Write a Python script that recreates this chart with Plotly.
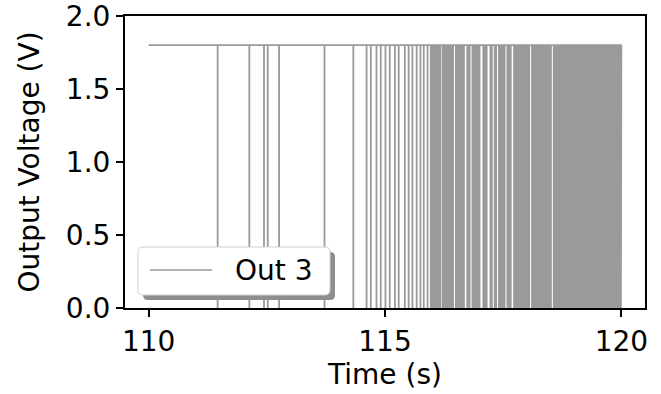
import plotly.graph_objects as go

# ---- data ----
t_start = 110.0
t_end = 120.0
v_high = 1.8
v_low = 0.0

spike_times = [
    111.46, 112.13, 112.44, 112.52, 112.76, 113.72, 114.33, 114.61, 114.70, 114.82,
    114.91, 115.01, 115.10, 115.21, 115.29, 115.42, 115.50, 115.58, 115.67, 115.75,
    115.82, 115.90, 115.97,
    116.00, 116.03, 116.05, 116.08, 116.10, 116.13, 116.15, 116.17,
    116.22, 116.24, 116.27, 116.29, 116.32, 116.34, 116.37, 116.39, 116.42, 116.44,
    116.50, 116.52, 116.55, 116.57, 116.60, 116.62, 116.65, 116.67,
    116.74, 116.76, 116.79,
    116.85, 116.87, 116.90, 116.92, 116.95, 116.97, 117.00,
    117.08, 117.10, 117.13, 117.15,
    117.23, 117.26,
    117.32, 117.35,
    117.41, 117.43, 117.46, 117.48, 117.51, 117.53,
    117.59, 117.61, 117.64, 117.66,
    117.73, 117.75, 117.78, 117.80, 117.83, 117.85, 117.88, 117.90, 117.93, 117.95,
    117.98, 118.00, 118.03, 118.05,
    118.11, 118.13, 118.16, 118.18, 118.21, 118.23, 118.26, 118.28, 118.31, 118.33,
    118.36, 118.38, 118.41, 118.43, 118.46, 118.48, 118.51,
    118.57, 118.59, 118.62, 118.64, 118.67, 118.69, 118.72, 118.74, 118.77, 118.79,
    118.82, 118.84, 118.87, 118.89, 118.92, 118.94, 118.97, 118.99, 119.02, 119.04,
    119.07, 119.09, 119.12, 119.14, 119.17, 119.19, 119.22, 119.24, 119.27, 119.29,
    119.32, 119.34, 119.37, 119.39, 119.42, 119.44, 119.47, 119.49, 119.52, 119.54,
    119.57, 119.59, 119.62, 119.64, 119.67, 119.69, 119.72, 119.74, 119.77, 119.79,
    119.82, 119.84, 119.87, 119.89, 119.92, 119.94, 119.97, 119.99,
]

x_ticks = [110, 115, 120]
y_ticks = [0.0, 0.5, 1.0, 1.5, 2.0]
series_name = "Out 3"

# ---- build waveform ----
xs = [t_start]
ys = [v_high]
for t in spike_times:
    xs += [t, t, t]
    ys += [v_high, v_low, v_high]
xs.append(t_end)
ys.append(v_high)

FONT = "DejaVu Sans"
FS = 28
line_color = "#9a9a9a"

fig = go.Figure()
fig.add_trace(go.Scatter(
    x=xs, y=ys, mode="lines", name=series_name,
    line=dict(color=line_color, width=1.8),
    showlegend=False,
))

# plot area in px: x 125..645, y 16..308
L, R, T, B = 125, 16, 16, 86
W, H = 661, 394
pw = W - L - R
ph = H - T - B


def px_x(px):
    return (px - L) / pw


def px_y(py):
    return (H - B - py) / ph


def rounded_rect(x0, y0, x1, y1, r):
    rx = r / pw
    ry = r / ph
    X0, X1 = px_x(x0), px_x(x1)
    Yt, Yb = px_y(y0), px_y(y1)
    return (
        f"M{X0 + rx},{Yt} L{X1 - rx},{Yt} Q{X1},{Yt} {X1},{Yt - ry} "
        f"L{X1},{Yb + ry} Q{X1},{Yb} {X1 - rx},{Yb} "
        f"L{X0 + rx},{Yb} Q{X0},{Yb} {X0},{Yb + ry} "
        f"L{X0},{Yt - ry} Q{X0},{Yt} {X0 + rx},{Yt} Z"
    )


# legend: shadow, box, sample line, label
fig.add_shape(type="path", xref="paper", yref="paper",
              path=rounded_rect(143, 252, 335, 300, 5),
              fillcolor="#8e8e8e", line=dict(width=0), layer="above")
fig.add_shape(type="path", xref="paper", yref="paper",
              path=rounded_rect(138, 247, 330, 295, 5),
              fillcolor="white", line=dict(color="#d0d0d0", width=1), layer="above")
fig.add_shape(type="line", xref="paper", yref="paper",
              x0=px_x(150), x1=px_x(212), y0=px_y(270), y1=px_y(270),
              line=dict(color=line_color, width=1.5), layer="above")
fig.add_annotation(xref="paper", yref="paper", x=px_x(233), y=px_y(270),
                   xanchor="left", yanchor="middle", showarrow=False,
                   text=series_name, font=dict(family=FONT, size=FS, color="black"))

fig.update_layout(
    template="none",
    width=W, height=H,
    margin=dict(l=L, r=R, t=T, b=B, pad=0),
    paper_bgcolor="white", plot_bgcolor="white",
    font=dict(family=FONT, size=FS, color="black"),
    showlegend=False,
    xaxis=dict(
        range=[109.5, 120.5], tickvals=x_ticks, ticktext=[str(v) for v in x_ticks],
        showgrid=False, zeroline=False, showline=True, linecolor="black", linewidth=2,
        mirror=True, ticks="outside", ticklen=7, tickwidth=2, tickcolor="black",
        title=dict(text="Time (s)", standoff=6, font=dict(size=FS)),
        tickfont=dict(size=FS), automargin=False, ticklabeloverflow="allow",
    ),
    yaxis=dict(
        range=[0, 2.0], tickvals=y_ticks, ticktext=[f"{v:.1f}" for v in y_ticks],
        showgrid=False, zeroline=False, showline=True, linecolor="black", linewidth=2,
        mirror=True, ticks="outside", ticklen=7, tickwidth=2, tickcolor="black",
        title=dict(text="Output Voltage (V)", standoff=18, font=dict(size=FS)),
        tickfont=dict(size=FS), automargin=False, ticklabeloverflow="allow",
    ),
)

fig.write_html("out.html")
